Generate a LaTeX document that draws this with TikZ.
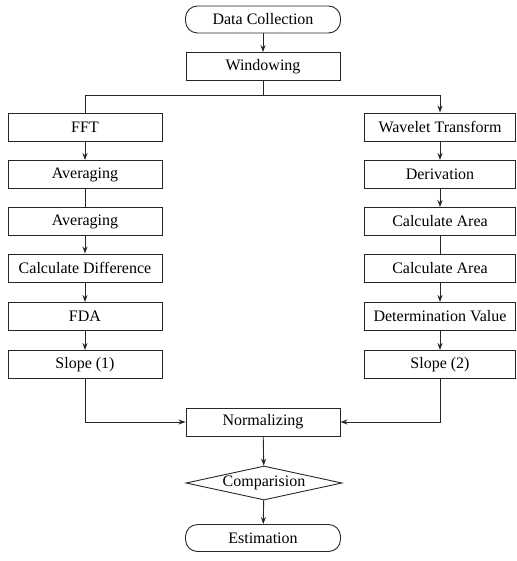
\documentclass[tikz,border=0pt]{standalone}
\usepackage{fontspec}
\setmainfont{Liberation Serif}
\usetikzlibrary{shapes.geometric,arrows.meta}
\begin{document}
\begin{tikzpicture}[x=1pt,y=-1pt,
  every node/.style={font=\fontsize{16}{19}\selectfont, text=black},
  box/.style={draw=black!85, line width=0.9pt, rectangle, minimum width=154pt, minimum height=28pt, inner sep=0pt},
  cbox/.style={box, minimum width=154pt},
  term/.style={draw=black!85, line width=0.9pt, rectangle, rounded corners=12pt, minimum width=155pt, minimum height=27pt, inner sep=0pt},
  dec/.style={draw=black!85, line width=0.9pt, diamond, aspect=4.6, minimum width=156pt, minimum height=34pt, inner sep=0pt},
  ln/.style={draw=black!85, line width=0.9pt},
  arr/.style={ln, -{Stealth[length=7pt,width=5pt]}}]
\useasboundingbox (0,0) rectangle (516,561);
\node[term] (dc) at (263,19.5) {Data Collection};
\node[cbox] (win) at (263,66.5) {Windowing};
\coordinate (split) at (263,95);
% left column
\node[box] (fft) at (85,127) {FFT};
\node[box] (avg1) at (85,174.5) {Averaging};
\node[box] (avg2) at (85,221.5) {Averaging};
\node[box] (cd) at (85,268) {Calculate Difference};
\node[box] (fda) at (85,316.5) {FDA};
\node[box] (s1) at (85,364.5) {Slope (1)};
% right column
\node[box, minimum width=151pt] (wt) at (440,127) {Wavelet Transform};
\node[box, minimum width=151pt] (der) at (440,174.5) {Derivation};
\node[box, minimum width=151pt] (ca1) at (440,221.5) {Calculate Area};
\node[box, minimum width=151pt] (ca2) at (440,268) {Calculate Area};
\node[box, minimum width=151pt] (det) at (440,316.5) {Determination Value};
\node[box, minimum width=151pt] (s2) at (440,364.5) {Slope (2)};
% bottom
\node[cbox] (norm) at (263,422) {Normalizing};
\node[dec] (comp) at (264,483) {Comparision};
\node[term] (est) at (263,538) {Estimation};
% connectors
\draw[arr] (dc) -- (win);
\draw[ln] (win) -- (split);
\draw[ln] (split) -| (fft.north);
\draw[arr] (split) -| (wt.north);
\draw[arr] (fft) -- (avg1);
\draw[ln] (avg1) -- (avg2);
\draw[arr] (avg2) -- (cd);
\draw[arr] (cd) -- (fda);
\draw[arr] (fda) -- (s1);
\draw[arr] (s1.south) |- (norm.west);
\draw[arr] (wt) -- (der);
\draw[arr] (der) -- (ca1);
\draw[ln] (ca1) -- (ca2);
\draw[arr] (ca2) -- (det);
\draw[arr] (det) -- (s2);
\draw[arr] (s2.south) |- (norm.east);
\draw[arr] (norm) -- (comp);
\draw[arr] (comp) -- (est);
\end{tikzpicture}
\end{document}
